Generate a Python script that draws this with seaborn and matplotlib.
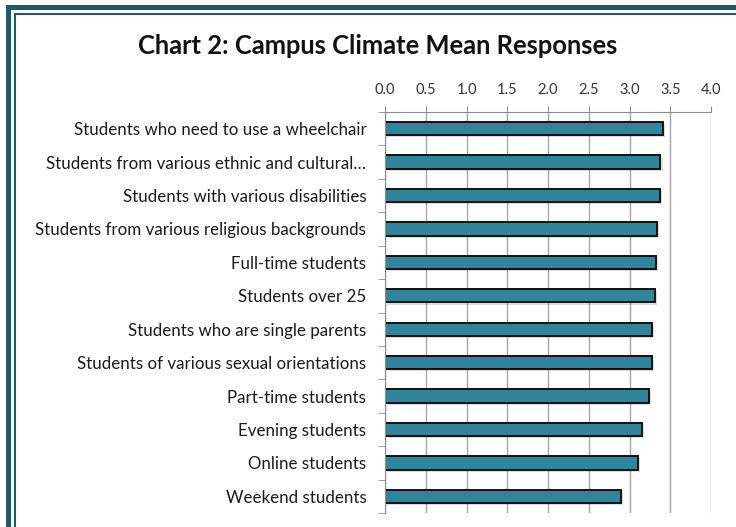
import matplotlib
matplotlib.use("Agg")
import matplotlib.pyplot as plt
import matplotlib.patheffects as pe
from matplotlib.patches import Rectangle
from matplotlib.ticker import MultipleLocator
import seaborn as sns
import pandas as pd

categories = [
    "Students who need to use a wheelchair",
    "Students from various ethnic and cultural\u2026",
    "Students with various disabilities",
    "Students from various religious backgrounds",
    "Full-time students",
    "Students over 25",
    "Students who are single parents",
    "Students of various sexual orientations",
    "Part-time students",
    "Evening students",
    "Online students",
    "Weekend students",
]
means = [3.41, 3.38, 3.37, 3.34, 3.32, 3.31, 3.27, 3.27, 3.24, 3.15, 3.10, 2.90]
x_ticks = [0.0, 0.5, 1.0, 1.5, 2.0, 2.5, 3.0, 3.5, 4.0]

df = pd.DataFrame({"group": categories, "mean": means})

W, H = 736, 527
sns.set_style("white")
plt.rcParams["font.family"] = ["Lato", "DejaVu Sans"]

fig = plt.figure(figsize=(W / 100, H / 100), dpi=100)
ax = fig.add_axes([385 / W, 1 - 513 / H, (711 - 385) / W, (513 - 112) / H])

sns.barplot(data=df, x="mean", y="group", orient="h", color="#31849B",
            edgecolor="#111111", linewidth=1.4, width=0.4, saturation=1, ax=ax)
for bar in ax.patches:
    bar.set_path_effects([pe.SimplePatchShadow(offset=(1.5, -1.5), alpha=0.15), pe.Normal()])

ax.set_xlim(0, 4)
ax.set_ylim(len(categories) - 0.5, -0.5)
ax.set_xticks(x_ticks)
ax.set_xticklabels([f"{t:.1f}" for t in x_ticks])
ax.xaxis.tick_top()
ax.tick_params(axis="x", top=True, bottom=False, length=4, color="#8c8c8c",
               labelsize=10.5, labelcolor="#333333", pad=7)
ax.grid(axis="x", color="#a6a6a6", linewidth=1)
ax.set_axisbelow(True)

ax.yaxis.set_minor_locator(MultipleLocator(1, offset=0.5))
ax.tick_params(axis="y", which="major", length=0, labelsize=12.2, labelcolor="#1a1a1a", pad=13.5)
ax.tick_params(axis="y", which="minor", left=True, length=5, color="#8c8c8c")
ax.set_xlabel("")
ax.set_ylabel("")

for side in ["right", "bottom"]:
    ax.spines[side].set_visible(False)
ax.spines["left"].set_color("#8c8c8c")
ax.spines["top"].set_color("#8c8c8c")

fig.text(378 / W, 1 - 46 / H, "Chart 2: Campus Climate Mean Responses",
         ha="center", va="center", fontsize=18.4, fontweight="bold", color="#111111")

# frame around the chart (cut off at right and bottom)
frame = "#215968"
fig.add_artist(Rectangle((8 / W, -0.1), 1.2, 1 - 7 / H + 0.1, transform=fig.transFigure,
                         fill=False, edgecolor=frame, linewidth=3.6))
fig.add_artist(Rectangle((15 / W, -0.1), 1.2, 1 - 14 / H + 0.1, transform=fig.transFigure,
                         fill=False, edgecolor=frame, linewidth=1.5))

fig.savefig("out.png", dpi=100)
